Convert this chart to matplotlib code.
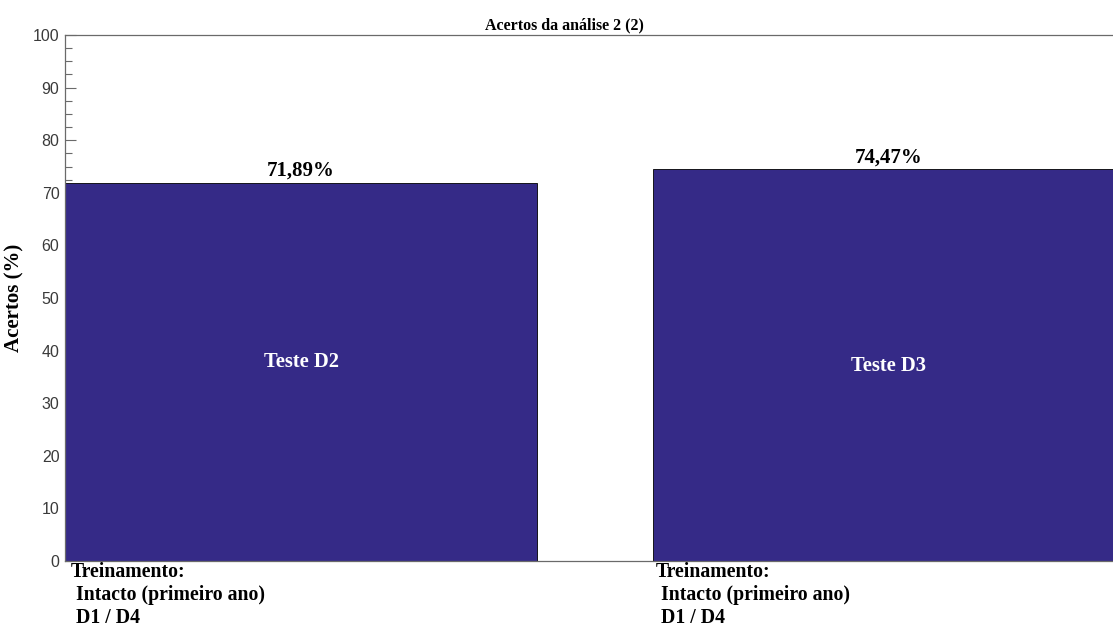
import matplotlib
matplotlib.use("Agg")
import matplotlib.pyplot as plt
from matplotlib.ticker import MultipleLocator

title = "Acertos da análise 2 (2)"
ylabel = "Acertos (%)"
values = [71.89, 74.47]
value_labels = ["71,89%", "74,47%"]
inner_labels = ["Teste D2", "Teste D3"]
tick_labels = ["Treinamento:\n Intacto (primeiro ano)\n D1 / D4",
               "Treinamento:\n Intacto (primeiro ano)\n D1 / D4"]

# layout: vertical placement of inner labels (fraction of bar height)
inner_frac = [0.526, 0.498]

serif = ["Liberation Serif", "DejaVu Serif"]
sans = ["Liberation Sans", "DejaVu Sans"]
bar_color = "#352A87"
spine_color = "#6a6a6a"

fig = plt.figure(figsize=(11.13, 6.27), dpi=100)
W, H = 1113, 627
left, right, top, bottom = 65, 1125, 35, 561
ax = fig.add_axes([left / W, 1 - bottom / H, (right - left) / W, (bottom - top) / H])

width = 0.803
x = [1, 2]
ax.bar(x, values, width=width, color=bar_color, edgecolor="black", linewidth=0.6, zorder=2)
ax.set_xlim(1 - width / 2, 2 + width / 2)
ax.set_ylim(0, 100)

ax.yaxis.set_major_locator(MultipleLocator(10))
ax.yaxis.set_minor_locator(MultipleLocator(2.5))
ax.tick_params(axis="y", which="major", direction="in", length=8, width=0.8,
               color=spine_color, labelcolor="#3a3a3a", labelsize=11.5, pad=4)
ax.tick_params(axis="y", which="minor", direction="in", length=5, width=0.8, color=spine_color)
for lab in ax.get_yticklabels():
    lab.set_family(sans)
ax.set_xticks([])

for s in ["left", "top", "bottom", "right"]:
    ax.spines[s].set_color(spine_color)
    ax.spines[s].set_linewidth(0.9)

ax.set_title(title, fontfamily=serif, fontweight="bold", fontsize=11.5, pad=4, x=0.471)
ax.set_ylabel(ylabel, fontfamily=serif, fontweight="bold", fontsize=15, labelpad=6)

for xi, v, vl, il, fr in zip(x, values, value_labels, inner_labels, inner_frac):
    ax.text(xi, v + 0.4, vl, ha="center", va="bottom", fontfamily=serif,
            fontweight="bold", fontsize=15, color="black")
    ax.text(xi, v * fr, il, ha="center", va="center", fontfamily=serif,
            fontweight="bold", fontsize=14.8, color="white")

xoffs = [4, 2]
for xi, tl, xo in zip(x, tick_labels, xoffs):
    ax.annotate(tl, xy=(xi - width / 2, 0), xycoords="data",
                xytext=(xo, -1), textcoords="offset points",
                ha="left", va="top", fontfamily=serif, fontweight="bold",
                fontsize=14.2, color="black", linespacing=1.2, annotation_clip=False)

fig.savefig("out.png", dpi=100)
